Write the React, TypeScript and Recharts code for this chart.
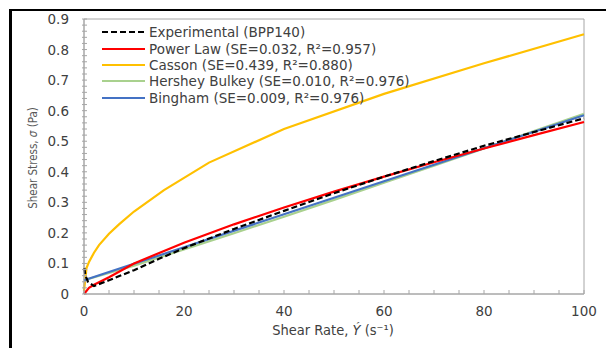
import { LineChart, Line, XAxis, YAxis, ReferenceArea } from 'recharts'

// experimental points
const RATE_EXP = [0.05, 0.3, 0.8, 2, 5, 10, 15, 20, 30, 40, 50, 60, 70, 80, 90, 100]
const STRESS_EXP = [0.085, 0.06, 0.04, 0.026, 0.045, 0.078, 0.115, 0.15, 0.213, 0.272, 0.33, 0.384, 0.435, 0.485, 0.53, 0.575]

// model fits
const RATE_PL = [0, 1, 2, 5, 10, 20, 30, 40, 50, 60, 70, 80, 90, 100]
const STRESS_PL = [0, 0.02, 0.03, 0.055, 0.1, 0.168, 0.228, 0.283, 0.335, 0.384, 0.431, 0.476, 0.52, 0.563]

const RATE_CASSON = [0, 0.5, 1, 2, 3, 5, 7, 10, 16, 25, 40, 60, 80, 100]
const STRESS_CASSON = [0.01, 0.085, 0.105, 0.135, 0.16, 0.197, 0.228, 0.27, 0.34, 0.43, 0.54, 0.655, 0.755, 0.85]

const RATE_HB = [0, 10, 20, 30, 40, 50, 60, 70, 80, 90, 100]
const STRESS_HB = [0.045, 0.093, 0.146, 0.199, 0.253, 0.308, 0.364, 0.42, 0.476, 0.533, 0.59]

const RATE_BINGHAM = [0, 20, 40, 60, 80, 100]
const STRESS_BINGHAM = [0.045, 0.153, 0.261, 0.369, 0.477, 0.585]

const X_LABELS = [0, 20, 40, 60, 80, 100]
const Y_LABELS = [0, 0.1, 0.2, 0.3, 0.4, 0.5, 0.6, 0.7, 0.8, 0.9]

const X_TICKS = Array.from({ length: 21 }, (_, i) => i * 5)
const Y_TICKS = Array.from({ length: 46 }, (_, i) => Math.round(i * 2) / 100)

const zip = (xs: number[], ys: number[]) => xs.map((x, i) => ({ x, y: ys[i] }))

const SERIES = [
  { name: 'Experimental (BPP140)', color: '#000000', dash: '6 3', data: zip(RATE_EXP, STRESS_EXP) },
  { name: 'Power Law (SE=0.032, R²=0.957)', color: '#ff0000', data: zip(RATE_PL, STRESS_PL) },
  { name: 'Casson (SE=0.439, R²=0.880)', color: '#ffc000', data: zip(RATE_CASSON, STRESS_CASSON) },
  { name: 'Hershey Bulkey (SE=0.010, R²=0.976)', color: '#a9d18e', data: zip(RATE_HB, STRESS_HB) },
  { name: 'Bingham (SE=0.009, R²=0.976)', color: '#4472c4', data: zip(RATE_BINGHAM, STRESS_BINGHAM) },
]

// draw order: black dashed on top
const DRAW_ORDER = [2, 3, 4, 1, 0]

const FONT = '"DejaVu Sans", sans-serif'
const NARROW = '"Liberation Sans Narrow", "DejaVu Sans Condensed", "Liberation Sans", sans-serif'
const AXIS = '#a6a6a6'
const TXT = '#404040'

function XTick({ x, y, payload }: any) {
  const v = payload.value
  const major = X_LABELS.includes(v)
  return (
    <g>
      <line x1={x} y1={y} x2={x} y2={y - 4} stroke={AXIS} />
      {major && (
        <text x={x} y={y + 22} textAnchor="middle" fill={TXT} fontSize={13.5} fontFamily={FONT}>
          {v}
        </text>
      )}
    </g>
  )
}

function YTick({ x, y, payload }: any) {
  const v = payload.value
  const major = Y_LABELS.some((l) => Math.abs(l - v) < 1e-6)
  return (
    <g>
      <line x1={x - 2} y1={y} x2={x + 3} y2={y} stroke={AXIS} />
      {major && (
        <text x={x - 15} y={y + 5} textAnchor="end" fill={TXT} fontSize={13.5} fontFamily={FONT}>
          {v === 0 ? '0' : v.toFixed(1)}
        </text>
      )}
    </g>
  )
}

function LegendBox() {
  return (
    <div style={{ position: 'absolute', left: 102, top: 24, fontFamily: FONT, fontSize: 13.5, color: TXT }}>
      {SERIES.map((s) => (
        <div key={s.name} style={{ display: 'flex', alignItems: 'center', height: 16.4 }}>
          <svg width={44} height={6} style={{ marginRight: 3 }}>
            <line x1={0} y1={3} x2={43} y2={3} stroke={s.color} strokeWidth={2.2} strokeDasharray={s.dash} />
          </svg>
          <span style={{ whiteSpace: 'nowrap' }}>{s.name}</span>
        </div>
      ))}
    </div>
  )
}

export default function App() {
  return (
    <div style={{ position: 'relative', width: 614, height: 356, margin: -8, background: '#fff', overflow: 'hidden' }}>
      <div style={{ position: 'absolute', left: 0, top: 7, width: 609, borderTop: '1px dotted #666' }} />
      <div
        style={{
          position: 'absolute',
          left: 9,
          top: 9,
          width: 594,
          height: 342,
          borderTop: '2px solid #000',
          borderLeft: '3px solid #000',
          borderRight: '2px solid #000',
          borderBottom: '1px solid #d0d0d0',
        }}
      />
      <div style={{ position: 'absolute', left: 0, top: 0 }}>
        <LineChart width={614} height={356} margin={{ top: 19, right: 30, left: 24, bottom: 22 }}>
          <XAxis
            type="number"
            dataKey="x"
            domain={[0, 100]}
            ticks={X_TICKS}
            interval={0}
            allowDuplicatedCategory={false}
            height={40}
            tickSize={0}
            tickMargin={0}
            tickLine={false}
            axisLine={{ stroke: AXIS }}
            tick={<XTick />}
          />
          <YAxis
            type="number"
            dataKey="y"
            domain={[0, 0.9]}
            ticks={Y_TICKS}
            interval={0}
            width={60}
            tickSize={0}
            tickMargin={0}
            tickLine={false}
            axisLine={{ stroke: AXIS }}
            tick={<YTick />}
          />
          <ReferenceArea x1={0} x2={100} y1={0} y2={0.9} fill="none" stroke={AXIS} strokeWidth={1} ifOverflow="visible" />
          {DRAW_ORDER.map((i) => {
            const s = SERIES[i]
            return (
              <Line
                key={s.name}
                data={s.data}
                dataKey="y"
                type="linear"
                stroke={s.color}
                strokeWidth={2.2}
                strokeDasharray={s.dash}
                dot={false}
                isAnimationActive={false}
              />
            )
          })}
        </LineChart>
      </div>
      <LegendBox />
      <div
        style={{
          position: 'absolute',
          left: 333,
          top: 330,
          transform: 'translate(-50%, -50%)',
          fontFamily: NARROW,
          fontSize: 14.5,
          color: TXT,
          whiteSpace: 'nowrap',
        }}
      >
        Shear Rate, <i>Ý</i> (s⁻¹)
      </div>
      <div
        style={{
          position: 'absolute',
          left: 33,
          top: 158,
          transform: 'translate(-50%, -50%) rotate(-90deg)',
          fontFamily: NARROW,
          fontSize: 11.5,
          color: '#595959',
          whiteSpace: 'nowrap',
        }}
      >
        Shear Stress, <i>σ</i> (Pa)
      </div>
    </div>
  )
}
